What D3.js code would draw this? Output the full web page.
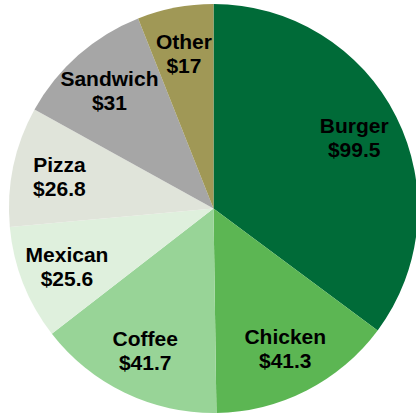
<!DOCTYPE html>
<html>
<head>
<meta charset="utf-8">
<script src="https://cdn.jsdelivr.net/npm/d3@7"></script>
<style>
  html, body { margin: 0; padding: 0; background: #ffffff; }
  svg { display: block; }
  text { font-family: "Liberation Sans", Arial, sans-serif; font-weight: bold; fill: #000; }
</style>
</head>
<body>
<svg id="chart" width="416" height="415"></svg>
<script>
// Spending by category, clockwise from 12 o'clock
const categories = ["Burger", "Chicken", "Coffee", "Mexican", "Pizza", "Sandwich", "Other"];
const values = [99.5, 41.3, 41.7, 25.6, 26.8, 31, 17];
const valueLabels = ["$99.5", "$41.3", "$41.7", "$25.6", "$26.8", "$31", "$17"];
const colors = ["#006B38", "#5CB653", "#98D497", "#DFF0DD", "#E0E4DA", "#A6A6A6", "#A09856"];

const width = 416, height = 415;
const cx = 213.5, cy = 208.5, radius = 204.5;

const data = categories.map((c, i) => ({ name: c, value: values[i], label: valueLabels[i], color: colors[i] }));

const svg = d3.select("#chart");
const g = svg.append("g").attr("transform", `translate(${cx},${cy})`);

const pie = d3.pie().sort(null).value(d => d.value);
const arcs = pie(data);

const arc = d3.arc().innerRadius(0).outerRadius(radius);
const labelR = radius * 0.77;
const labelArc = d3.arc().innerRadius(labelR).outerRadius(labelR);

g.selectAll("path.slice")
  .data(arcs)
  .join("path")
  .attr("class", "slice")
  .attr("d", arc)
  .attr("fill", d => d.data.color);

const fontSize = 21;
const lineGap = 24;

const labels = g.selectAll("text.lbl")
  .data(arcs)
  .join("text")
  .attr("class", "lbl")
  .attr("text-anchor", "middle")
  .attr("font-size", fontSize)
  .attr("transform", d => {
    const [x, y] = labelArc.centroid(d);
    return `translate(${x},${y})`;
  });

labels.append("tspan")
  .attr("x", 0)
  .attr("y", -lineGap / 2 + 7.5)
  .text(d => d.data.name);

labels.append("tspan")
  .attr("x", 0)
  .attr("y", lineGap / 2 + 7.5)
  .text(d => d.data.label);
</script>
</body>
</html>
